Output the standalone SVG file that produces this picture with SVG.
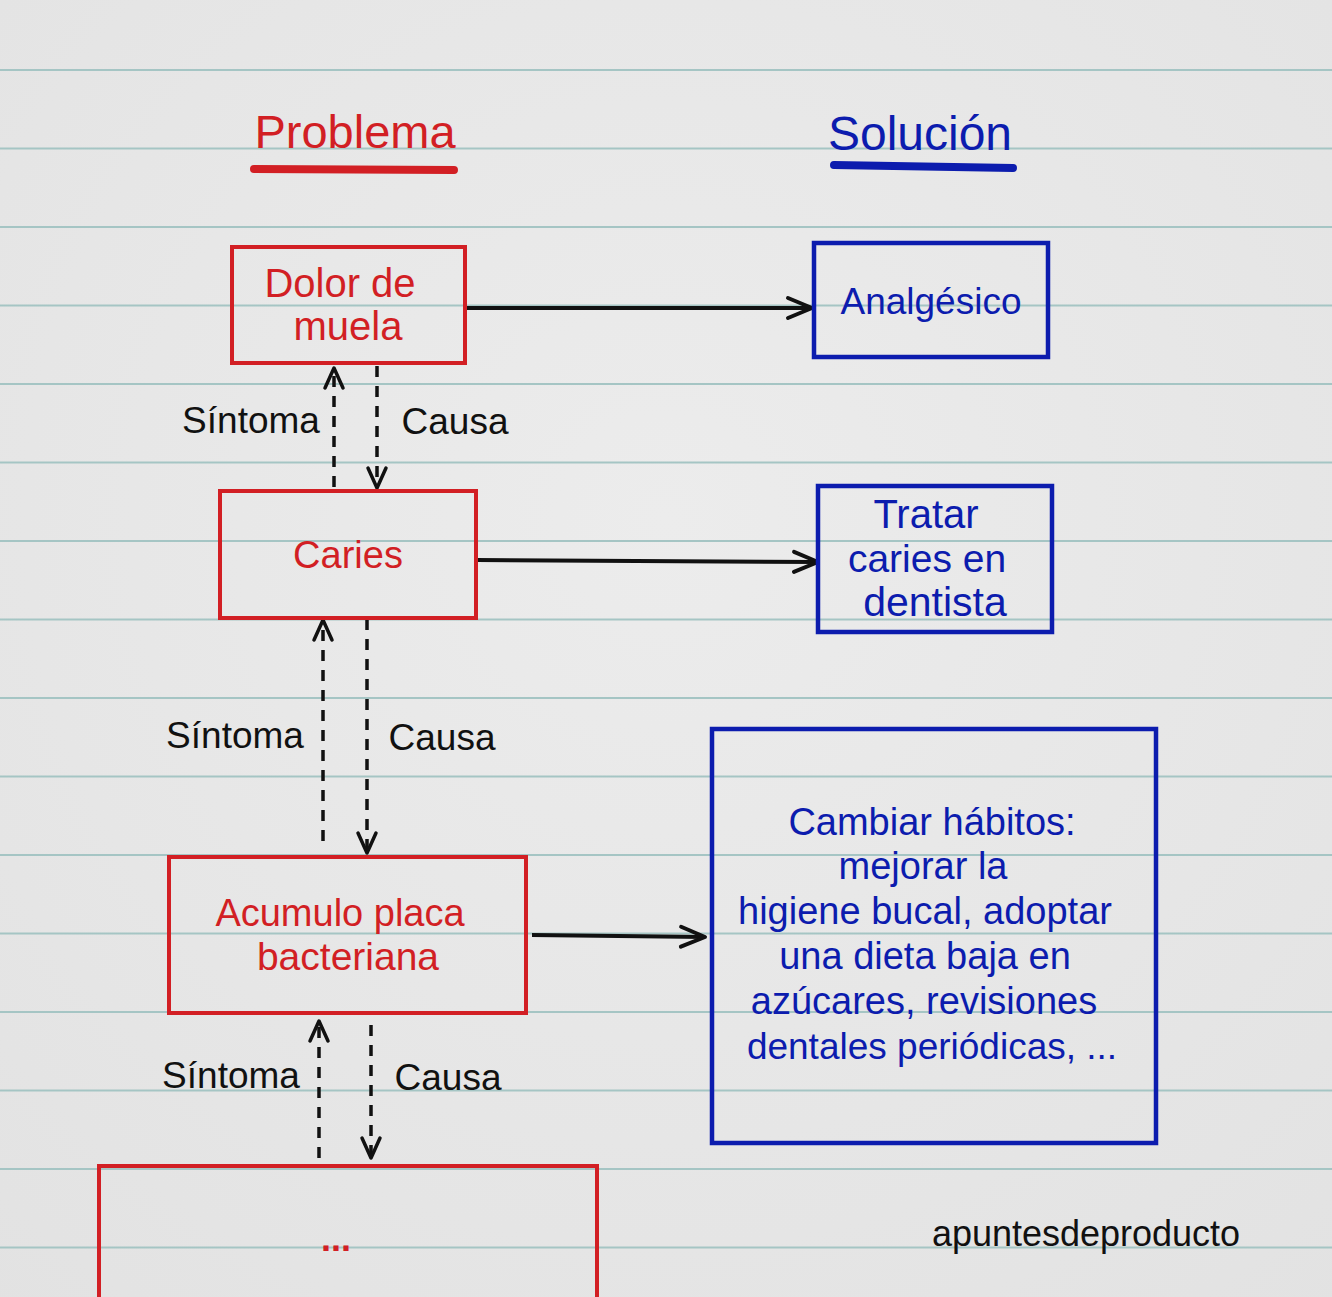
<svg xmlns="http://www.w3.org/2000/svg" width="1332" height="1297" viewBox="0 0 1332 1297">
<style>
.txt{font-family:"Liberation Sans","DejaVu Sans",sans-serif;text-anchor:middle}
.red{fill:#d21f24}
.blue{fill:#0c1cae}
.blk{fill:#111}
.rbox{fill:none;stroke:#d21f24;stroke-width:4}
.bbox{fill:none;stroke:#0c1cae;stroke-width:4.5}
.rule{stroke:#a5c5c4;stroke-width:2}
.solid{fill:none;stroke:#111;stroke-width:4;marker-end:url(#ah)}
.dash{fill:none;stroke:#111;stroke-width:3.5;stroke-dasharray:11 9;marker-end:url(#ahs)}
</style>
<defs>
<marker id="ah" markerUnits="userSpaceOnUse" markerWidth="30" markerHeight="30" refX="27" refY="12" orient="auto" viewBox="0 0 30 24">
<path d="M3,2 L27,12 L3,22" fill="none" stroke="#111" stroke-width="4" stroke-linecap="round" stroke-linejoin="round"/>
</marker>
<marker id="ahs" markerUnits="userSpaceOnUse" markerWidth="26" markerHeight="26" refX="23" refY="11" orient="auto" viewBox="0 0 26 22">
<path d="M3,2 L23,11 L3,20" fill="none" stroke="#111" stroke-width="3.5" stroke-linecap="round" stroke-linejoin="round"/>
</marker>
<radialGradient id="bg" cx="0.5" cy="0.4" r="0.8">
<stop offset="0" stop-color="#ececec"/>
<stop offset="1" stop-color="#e2e2e2"/>
</radialGradient>
</defs>
<rect x="0" y="0" width="1332" height="1297" fill="url(#bg)"/>
<g id="rules">
<line class="rule" x1="0" y1="70" x2="1332" y2="70"/>
<line class="rule" x1="0" y1="148.5" x2="1332" y2="148.5"/>
<line class="rule" x1="0" y1="227" x2="1332" y2="227"/>
<line class="rule" x1="0" y1="305.5" x2="1332" y2="305.5"/>
<line class="rule" x1="0" y1="384" x2="1332" y2="384"/>
<line class="rule" x1="0" y1="462.5" x2="1332" y2="462.5"/>
<line class="rule" x1="0" y1="541" x2="1332" y2="541"/>
<line class="rule" x1="0" y1="619.5" x2="1332" y2="619.5"/>
<line class="rule" x1="0" y1="698" x2="1332" y2="698"/>
<line class="rule" x1="0" y1="776.5" x2="1332" y2="776.5"/>
<line class="rule" x1="0" y1="855" x2="1332" y2="855"/>
<line class="rule" x1="0" y1="933.5" x2="1332" y2="933.5"/>
<line class="rule" x1="0" y1="1012" x2="1332" y2="1012"/>
<line class="rule" x1="0" y1="1090.5" x2="1332" y2="1090.5"/>
<line class="rule" x1="0" y1="1169" x2="1332" y2="1169"/>
<line class="rule" x1="0" y1="1247.5" x2="1332" y2="1247.5"/>
</g>
<g id="titles">
<text class="txt red" x="355" y="148" font-size="47">Problema</text>
<path d="M254,169 L454,170" stroke="#d21f24" stroke-width="8" stroke-linecap="round" fill="none"/>
<text class="txt blue" x="920" y="150" font-size="48">Solución</text>
<path d="M834,165 L1013,168" stroke="#0c1cae" stroke-width="8" stroke-linecap="round" fill="none"/>
</g>
<g id="connectors">
<path class="solid" d="M466,308 L812,308"/>
<path class="solid" d="M477,560 L818,562"/>
<path class="solid" d="M532,935 L705,937" stroke-width="5"/>
<path class="dash" d="M334,487 L334,368"/>
<path class="dash" d="M377,366 L377,488"/>
<path class="dash" d="M323,841 L323,620"/>
<path class="dash" d="M367,619 L367,853"/>
<path class="dash" d="M319,1158 L319,1021"/>
<path class="dash" d="M371,1025 L371,1158"/>
</g>
<g id="labels">
<text class="txt blk" x="251" y="433" font-size="37">Síntoma</text>
<text class="txt blk" x="455" y="434" font-size="37">Causa</text>
<text class="txt blk" x="235" y="748" font-size="37">Síntoma</text>
<text class="txt blk" x="442" y="750" font-size="37">Causa</text>
<text class="txt blk" x="231" y="1088" font-size="37">Síntoma</text>
<text class="txt blk" x="448" y="1090" font-size="37">Causa</text>
</g>
<g id="node-dolor">
<rect class="rbox" x="232" y="247" width="233" height="116"/>
<text class="txt red" x="340" y="297" font-size="40">Dolor de</text>
<text class="txt red" x="348" y="340" font-size="40">muela</text>
</g>
<g id="node-analgesico">
<rect class="bbox" x="814" y="243" width="234" height="114"/>
<text class="txt blue" x="931" y="314" font-size="37">Analgésico</text>
</g>
<g id="node-caries">
<rect class="rbox" x="220" y="491" width="256" height="127"/>
<text class="txt red" x="348" y="568" font-size="38">Caries</text>
</g>
<g id="node-tratar">
<rect class="bbox" x="818" y="486" width="234" height="146"/>
<text class="txt blue" x="926" y="528" font-size="40">Tratar</text>
<text class="txt blue" x="927" y="572" font-size="39">caries en</text>
<text class="txt blue" x="935" y="616" font-size="41">dentista</text>
</g>
<g id="node-acumulo">
<rect class="rbox" x="169" y="857" width="357" height="156"/>
<text class="txt red" x="340" y="926" font-size="38">Acumulo placa</text>
<text class="txt red" x="348" y="970" font-size="39">bacteriana</text>
</g>
<g id="node-cambiar">
<rect class="bbox" x="712" y="729" width="444" height="414"/>
<text class="txt blue" x="932" y="835" font-size="38">Cambiar hábitos:</text>
<text class="txt blue" x="923" y="879" font-size="38">mejorar la</text>
<text class="txt blue" x="925" y="924" font-size="38">higiene bucal, adoptar</text>
<text class="txt blue" x="925" y="969" font-size="38">una dieta baja en</text>
<text class="txt blue" x="924" y="1014" font-size="38">azúcares, revisiones</text>
<text class="txt blue" x="932" y="1059" font-size="37">dentales periódicas, ...</text>
</g>
<g id="node-more">
<rect class="rbox" x="99" y="1166" width="498" height="160"/>
<text class="txt red" x="336" y="1251" font-size="36" font-weight="bold">...</text>
</g>
<text class="txt blk" x="1086" y="1246" font-size="36">apuntesdeproducto</text>
</svg>
